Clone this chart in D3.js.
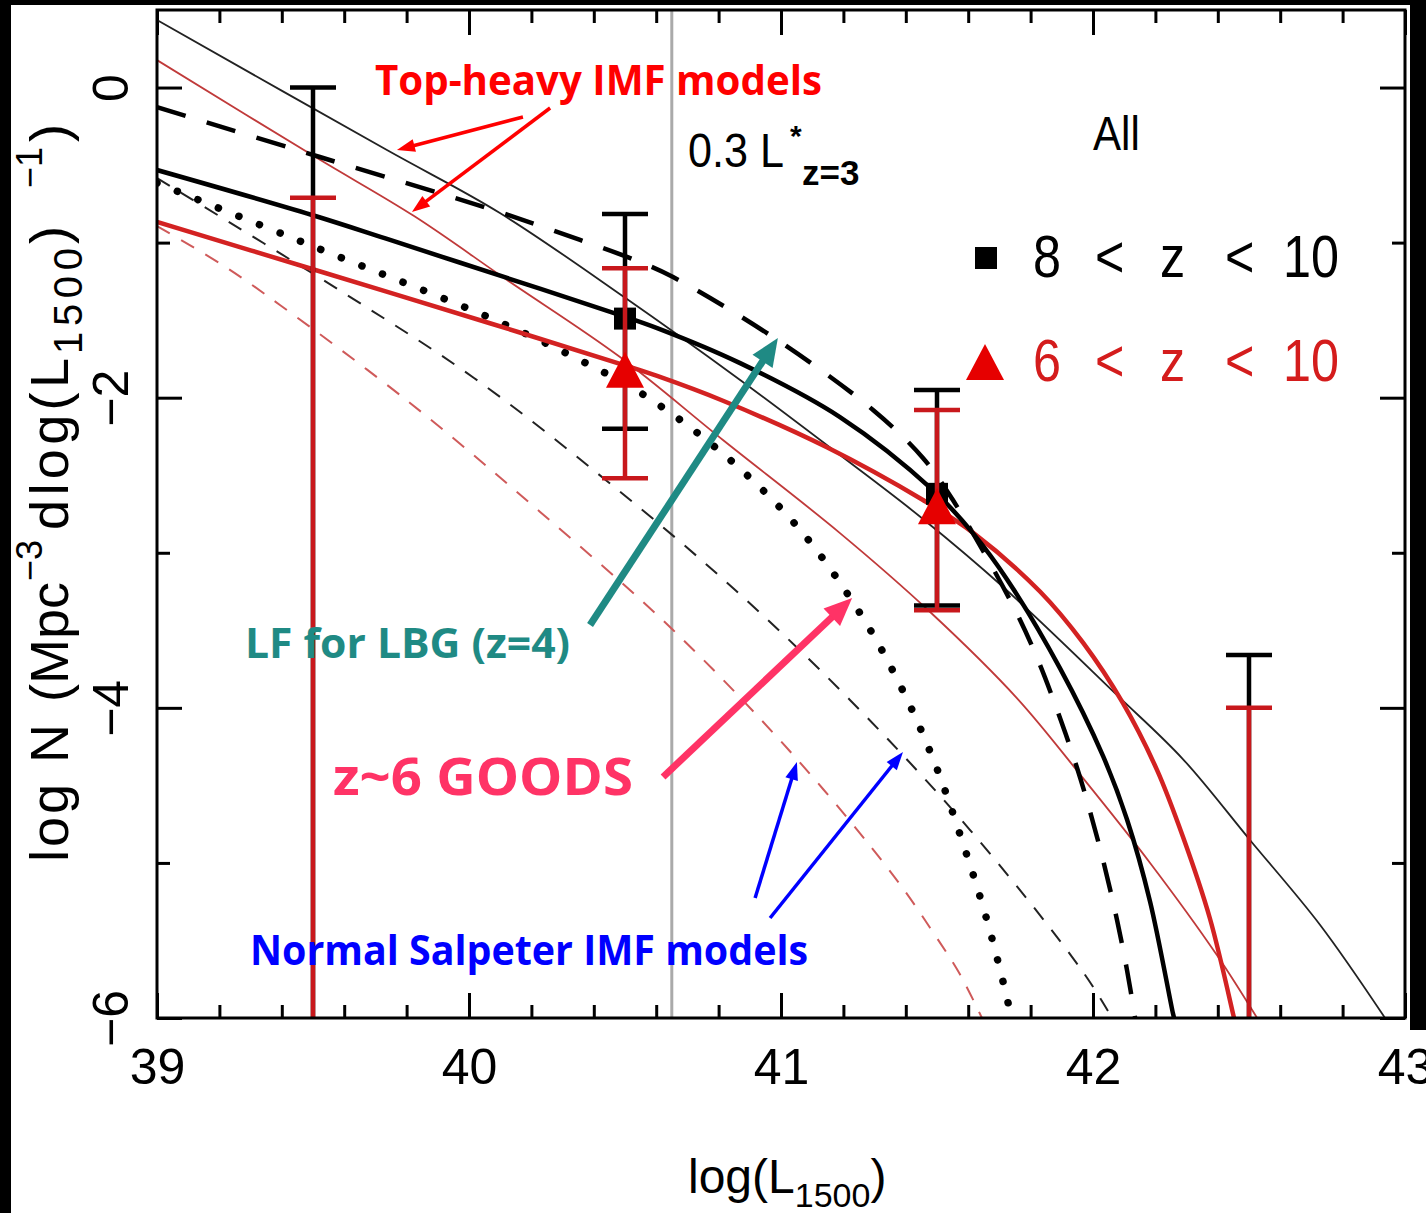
<!DOCTYPE html>
<html>
<head>
<meta charset="utf-8">
<script src="https://cdn.jsdelivr.net/npm/d3@7"></script>
<style>
  html, body { margin: 0; padding: 0; background: #000; }
  svg { display: block; }
</style>
</head>
<body>
<svg id="chart" width="1426" height="1213"></svg>
<script>
// ---------------- data ----------------
const xMajorTicks = [39, 40, 41, 42, 43];
const xMinorTicks = [39.2, 39.4, 39.6, 39.8, 40.2, 40.4, 40.6, 40.8,
                     41.2, 41.4, 41.6, 41.8, 42.2, 42.4, 42.6, 42.8];
const yMajorTicks = [0, -2, -4, -6];
const yMinorTicks = [-1, -3, -5];

// 0.3 L* at z=3
const lStarZ3 = 40.65;

// model luminosity functions: [log L1500, log N]
const topHeavyBlack = [[39.0,0.435],[39.737,-0.403],[40.099,-0.809],[40.497,-1.351],
  [40.869,-1.886],[41.189,-2.37],[41.455,-2.782],[41.712,-3.221],[42.077,-3.918],
  [42.288,-4.33],[42.503,-4.852],[42.728,-5.40],[42.936,-6.0]];
const topHeavyRed = [[39.0,0.177],[39.513,-0.455],[39.824,-0.829],[40.122,-1.241],
  [40.484,-1.738],[40.814,-2.273],[41.189,-2.873],[41.478,-3.382],[41.756,-3.937],
  [41.968,-4.453],[42.183,-5.0],[42.397,-5.594],[42.526,-6.0]];
const modelBlack = [[39.0,-0.532],[39.497,-0.822],[39.747,-0.983],[40.122,-1.228],
  [40.465,-1.454],[40.603,-1.551],[40.869,-1.777],[41.189,-2.125],[41.487,-2.596],
  [41.615,-2.873],[41.724,-3.17],[41.894,-3.744],[42.032,-4.31],[42.109,-4.72],
  [42.183,-5.25],[42.256,-5.968],[42.26,-6.0]];
const modelRed = [[39.0,-0.867],[39.497,-1.17],[40.067,-1.52],[40.497,-1.79],
  [40.603,-1.86],[40.814,-2.02],[41.147,-2.32],[41.455,-2.66],[41.615,-2.87],
  [41.83,-3.25],[41.968,-3.58],[42.096,-3.97],[42.205,-4.40],[42.288,-4.83],
  [42.375,-5.36],[42.449,-5.974],[42.452,-6.0]];
const lbgZ4 = [[39.0,-0.126],[39.522,-0.448],[40.067,-0.783],[40.356,-0.983],
  [40.548,-1.125],[40.654,-1.222],[40.974,-1.609],[41.295,-2.079],[41.455,-2.389],
  [41.551,-2.66],[41.744,-3.343],[41.821,-3.679],[41.885,-4.014],[41.949,-4.388],
  [41.99,-4.665],[42.032,-4.981],[42.077,-5.368],[42.109,-5.691],[42.135,-6.0]];
const goodsZ6 = [[39.0,-0.616],[39.506,-1.029],[40.083,-1.499],[40.362,-1.764],
  [40.571,-1.996],[40.83,-2.389],[41.067,-2.866],[41.263,-3.421],[41.388,-3.879],
  [41.494,-4.362],[41.583,-4.872],[41.66,-5.368],[41.728,-5.904],[41.737,-6.0]];
const salpeterBlack = [[39.0,-0.584],[39.599,-1.325],[40.016,-1.873],[40.442,-2.537],
  [40.846,-3.227],[41.221,-3.949],[41.606,-4.788],[41.968,-5.703],[42.061,-6.0]];
const salpeterRed = [[39.0,-0.893],[39.215,-1.151],[39.394,-1.402],[39.811,-2.034],
  [40.228,-2.737],[40.654,-3.498],[41.045,-4.317],[41.359,-5.078],[41.487,-5.446],
  [41.574,-5.72],[41.644,-6.0]];

// binned observed luminosity function (null lower = upper limit only)
const binCentres = [39.5, 40.5, 41.5, 42.5];
const z8to10Value = [null, -1.49, -2.62, null];
const z8to10Upper = [0.0, -0.815, -1.95, -3.66];
const z8to10Lower = [null, -2.20, -3.34, null];
const z6to10Value = [null, -1.82, -2.70, null];
const z6to10Upper = [-0.71, -1.165, -2.08, -4.0];
const z6to10Lower = [null, -2.52, -3.37, null];

// annotation arrows: [tail, tip] in data units
const topHeavyArrows = [[[40.173,-0.19],[39.769,-0.403]], [[40.260,-0.132],[39.817,-0.803]]];
const lbgArrow = [[40.388,-3.466],[40.990,-1.615]];
const goodsArrow = [[40.622,-4.446],[41.228,-3.292]];
const salpeterArrows = [[[40.917,-5.226],[41.051,-4.349]], [[40.965,-5.355],[41.391,-4.285]]];

// ---------------- layout ----------------
const W = 1426, H = 1213;
const plot = { left: 157, right: 1405, top: 10, bottom: 1018 };
const FONT = "'Liberation Sans', Arial, Helvetica, sans-serif";
const BOLD = "'Open Sans', 'Noto Sans', sans-serif";

const svg = d3.select("#chart");
svg.append("rect").attr("width", W).attr("height", H).attr("fill", "#000");
svg.append("rect").attr("x", 11).attr("y", 5).attr("width", 1399).attr("height", H - 5).attr("fill", "#fff");
svg.append("rect").attr("x", 1410).attr("y", 1030).attr("width", W - 1410).attr("height", H - 1030).attr("fill", "#fff");

const x = d3.scaleLinear().domain([39, 43]).range([plot.left, plot.right]);
const y = d3.scaleLinear().domain([-6, 0.5]).range([plot.bottom, plot.top]);

svg.append("defs").append("clipPath").attr("id", "plot-clip")
  .append("rect").attr("x", plot.left).attr("y", plot.top)
  .attr("width", plot.right - plot.left).attr("height", plot.bottom - plot.top);

// ---------------- axes ----------------
function styleAxis(g) {
  g.select(".domain").remove();
  g.selectAll(".tick line").attr("stroke", "#000").attr("stroke-width", 3);
  g.attr("font-family", FONT).attr("font-size", 50);
  g.selectAll(".tick text").attr("fill", "#000");
}
const axes = svg.append("g");
axes.append("g").attr("transform", `translate(0,${plot.bottom})`)
  .call(d3.axisBottom(x).tickValues(xMajorTicks).tickSizeInner(-25).tickSizeOuter(0)
    .tickPadding(30).tickFormat(d3.format("d"))).call(styleAxis);
axes.append("g").attr("transform", `translate(0,${plot.bottom})`)
  .call(d3.axisBottom(x).tickValues(xMinorTicks).tickSizeInner(-13).tickSizeOuter(0)
    .tickFormat("")).call(styleAxis);
axes.append("g").attr("transform", `translate(0,${plot.top})`)
  .call(d3.axisTop(x).tickValues(xMajorTicks).tickSizeInner(-25).tickSizeOuter(0)
    .tickFormat("")).call(styleAxis);
axes.append("g").attr("transform", `translate(0,${plot.top})`)
  .call(d3.axisTop(x).tickValues(xMinorTicks).tickSizeInner(-13).tickSizeOuter(0)
    .tickFormat("")).call(styleAxis);
const leftAxis = axes.append("g").attr("transform", `translate(${plot.left},0)`)
  .call(d3.axisLeft(y).tickValues(yMajorTicks).tickSizeInner(-25).tickSizeOuter(0)
    .tickFormat(d3.format("d"))).call(styleAxis);
leftAxis.selectAll(".tick text")
  .attr("transform", "rotate(-90)").attr("x", 0).attr("y", -29).attr("dy", 0)
  .attr("text-anchor", "middle");
axes.append("g").attr("transform", `translate(${plot.left},0)`)
  .call(d3.axisLeft(y).tickValues(yMinorTicks).tickSizeInner(-13).tickSizeOuter(0)
    .tickFormat("")).call(styleAxis);
axes.append("g").attr("transform", `translate(${plot.right},0)`)
  .call(d3.axisRight(y).tickValues(yMajorTicks).tickSizeInner(-25).tickSizeOuter(0)
    .tickFormat("")).call(styleAxis);
axes.append("g").attr("transform", `translate(${plot.right},0)`)
  .call(d3.axisRight(y).tickValues(yMinorTicks).tickSizeInner(-13).tickSizeOuter(0)
    .tickFormat("")).call(styleAxis);

// axis titles
const xTitle = svg.append("text").attr("x", 688).attr("y", 1193)
  .attr("font-family", FONT).attr("font-size", 48).attr("fill", "#000");
xTitle.append("tspan").text("log(L");
xTitle.append("tspan").attr("font-size", 34).attr("dy", 14).text("1500");
xTitle.append("tspan").attr("dy", -14).text(")");

// rotated title; tspan x = distance along the text from its start
const yTitle = svg.append("text").attr("transform", "translate(68,862) rotate(-90)")
  .attr("font-family", FONT).attr("font-size", 54).attr("fill", "#000");
const yTitleParts = [
  { t: "log N",  x: 0,   y: 0,   len: 138 },
  { t: "(Mpc",   x: 160, y: 0 },
  { t: "−3",     x: 281, y: -26, size: 36 },
  { t: "dlog(L", x: 332, y: 0,   len: 172 },
  { t: "1500",   x: 508, y: 14,  size: 40, len: 106 },
  { t: ")",      x: 618, y: 0 },
  { t: "−1",     x: 674, y: -26, size: 36 },
  { t: ")",      x: 720, y: 0 }
];
yTitleParts.forEach(p => {
  const ts = yTitle.append("tspan").attr("x", p.x).attr("y", p.y).text(p.t);
  if (p.size) ts.attr("font-size", p.size);
  if (p.len) ts.attr("textLength", p.len).attr("lengthAdjust", "spacing");
});

// ---------------- plot contents ----------------
const content = svg.append("g").attr("clip-path", "url(#plot-clip)");

content.append("line")
  .attr("x1", x(lStarZ3)).attr("x2", x(lStarZ3))
  .attr("y1", plot.top).attr("y2", plot.bottom)
  .attr("stroke", "#aaaaaa").attr("stroke-width", 3);

const line = d3.line().x(d => x(d[0])).y(d => y(d[1])).curve(d3.curveCatmullRom.alpha(0.5));

const curves = [
  { data: salpeterRed,   stroke: "#cf5a5a", width: 2,   dash: "15,13" },
  { data: salpeterBlack, stroke: "#222",    width: 2,   dash: "15,13" },
  { data: goodsZ6,       stroke: "#000",    width: 7.5, dash: "0.1,22", cap: "round" },
  { data: topHeavyRed,   stroke: "#c03a3a", width: 1.8 },
  { data: topHeavyBlack, stroke: "#222",    width: 1.8 },
  { data: lbgZ4,         stroke: "#000",    width: 4.5, dash: "30,22" },
  { data: modelRed,      stroke: "#d32222", width: 4.5 },
  { data: modelBlack,    stroke: "#000",    width: 4.5 }
];
content.selectAll("path.lf").data(curves).join("path").attr("class", "lf")
  .attr("d", c => line(c.data))
  .attr("fill", "none")
  .attr("stroke", c => c.stroke)
  .attr("stroke-width", c => c.width)
  .attr("stroke-dasharray", c => c.dash || null)
  .attr("stroke-linecap", c => c.cap || "butt");

// error bars
const capHalf = 23;
function errorBars(g, upper, lower, colour) {
  binCentres.forEach((bc, i) => {
    const top = y(upper[i]);
    const bottom = lower[i] === null ? plot.bottom : y(lower[i]);
    const xc = x(bc);
    g.append("line").attr("x1", xc).attr("x2", xc).attr("y1", top).attr("y2", bottom)
      .attr("stroke", colour).attr("stroke-width", 4.5);
    g.append("line").attr("x1", xc - capHalf).attr("x2", xc + capHalf).attr("y1", top).attr("y2", top)
      .attr("stroke", colour).attr("stroke-width", 4.5);
    if (lower[i] !== null) {
      g.append("line").attr("x1", xc - capHalf).attr("x2", xc + capHalf).attr("y1", bottom).attr("y2", bottom)
        .attr("stroke", colour).attr("stroke-width", 4.5);
    }
  });
}
const squareSize = 22;
const triPath = "M0,-18L19,18L-19,18Z";

errorBars(content, z8to10Upper, z8to10Lower, "#000");
content.selectAll("rect.z8").data(binCentres.map((b, i) => [b, z8to10Value[i]]).filter(d => d[1] !== null))
  .join("rect").attr("class", "z8")
  .attr("x", d => x(d[0]) - squareSize / 2).attr("y", d => y(d[1]) - squareSize / 2)
  .attr("width", squareSize).attr("height", squareSize).attr("fill", "#000");
errorBars(content, z6to10Upper, z6to10Lower, "#c8181c");
content.selectAll("path.z6").data(binCentres.map((b, i) => [b, z6to10Value[i]]).filter(d => d[1] !== null))
  .join("path").attr("class", "z6")
  .attr("transform", d => `translate(${x(d[0])},${y(d[1])})`)
  .attr("d", triPath).attr("fill", "#e60000");

// frame
svg.append("rect").attr("x", plot.left).attr("y", plot.top)
  .attr("width", plot.right - plot.left).attr("height", plot.bottom - plot.top)
  .attr("fill", "none").attr("stroke", "#000").attr("stroke-width", 3);

// ---------------- legend and labels ----------------
// horizontally squeezed Liberation Sans for the in-plot labels
function condensed(txt, px, py, size, sx, colour, opts = {}) {
  const t = svg.append("text").attr("transform", `translate(${px},${py}) scale(${sx},1)`)
    .attr("font-family", FONT).attr("font-size", size).attr("fill", colour).text(txt);
  if (opts.bold) t.attr("font-weight", "bold");
  return t;
}
condensed("All", 1093, 150, 49, 0.86, "#000");
condensed("0.3 L", 688, 167, 49, 0.88, "#000");
condensed("*", 790, 146, 30, 1, "#000", { bold: true });
condensed("z=3", 802, 185, 35, 1, "#000", { bold: true });

// legend rows: glyphs placed at fixed offsets, as in the original typesetting
const legendTokenX = [0, 62, 127, 192, 250];
function legendRow(tokens, px, py, colour) {
  const sx = 0.84;
  const t = svg.append("text").attr("transform", `translate(${px},${py}) scale(${sx},1)`)
    .attr("font-family", FONT).attr("font-size", 60).attr("fill", colour);
  tokens.forEach((tok, i) => t.append("tspan").attr("x", legendTokenX[i] / sx).text(tok));
}
svg.append("rect").attr("x", 986 - squareSize / 2).attr("y", 258 - squareSize / 2)
  .attr("width", squareSize).attr("height", squareSize).attr("fill", "#000");
legendRow(["8", "<", "z", "<", "10"], 1033, 277, "#000");
svg.append("path").attr("transform", "translate(985,362)").attr("d", triPath).attr("fill", "#e60000");
legendRow(["6", "<", "z", "<", "10"], 1033, 381, "#d41c1c");

// ---------------- annotations ----------------
function arrow(tail, tip, colour, width, headLen, headWidth) {
  const p0 = [x(tail[0]), y(tail[1])], p1 = [x(tip[0]), y(tip[1])];
  const dx = p1[0] - p0[0], dy = p1[1] - p0[1], len = Math.hypot(dx, dy);
  const ux = dx / len, uy = dy / len;
  const bx = p1[0] - ux * headLen, by = p1[1] - uy * headLen;
  const nx = -uy * headWidth / 2, ny = ux * headWidth / 2;
  svg.append("line").attr("x1", p0[0]).attr("y1", p0[1]).attr("x2", bx + ux * 2).attr("y2", by + uy * 2)
    .attr("stroke", colour).attr("stroke-width", width);
  svg.append("path").attr("d", `M${p1[0]},${p1[1]}L${bx + nx},${by + ny}L${bx - nx},${by - ny}Z`)
    .attr("fill", colour);
}
topHeavyArrows.forEach(a => arrow(a[0], a[1], "#ff0000", 3.5, 18, 13));
arrow(lbgArrow[0], lbgArrow[1], "#1f8a84", 7, 28, 24);
arrow(goodsArrow[0], goodsArrow[1], "#ff3366", 7, 28, 24);
salpeterArrows.forEach(a => arrow(a[0], a[1], "#0000ff", 3.5, 18, 13));

function note(txt, px, py, size, colour, width) {
  svg.append("text").attr("x", px).attr("y", py).attr("font-family", BOLD)
    .attr("font-weight", 700).attr("font-size", size).attr("fill", colour)
    .attr("textLength", width).attr("lengthAdjust", "spacingAndGlyphs").text(txt);
}
note("Top-heavy IMF models", 375, 95, 41, "#ff0000", 447);
note("LF for LBG (z=4)", 245, 658, 41, "#1f8a84", 325);
note("z~6 GOODS", 333, 795, 52, "#ff3366", 300);
note("Normal Salpeter IMF models", 250, 965, 41, "#0000ff", 558);
</script>
</body>
</html>
